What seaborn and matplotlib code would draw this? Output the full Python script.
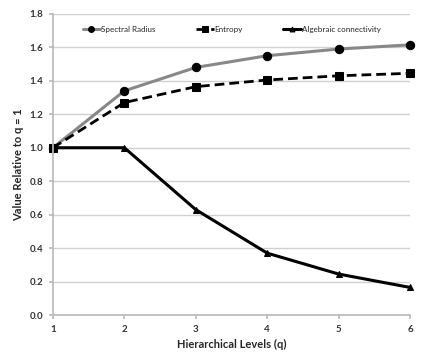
import matplotlib
matplotlib.use("Agg")
import matplotlib.pyplot as plt
import seaborn as sns
import pandas as pd

levels = [1, 2, 3, 4, 5, 6]
spectral_radius = [1.0, 1.34, 1.48, 1.55, 1.59, 1.615]
entropy = [1.0, 1.27, 1.365, 1.405, 1.43, 1.445]
algebraic_conn = [1.0, 1.0, 0.63, 0.37, 0.245, 0.165]
series_names = ["Spectral Radius", "Entropy", "Algebraic connectivity"]
y_ticks = [0.0, 0.2, 0.4, 0.6, 0.8, 1.0, 1.2, 1.4, 1.6, 1.8]

sns.set_theme(style="white")
plt.rcParams['font.family'] = ['Lato', 'DejaVu Sans']

df = pd.DataFrame({
    "q": levels * 3,
    "value": spectral_radius + entropy + algebraic_conn,
    "series": [series_names[0]] * 6 + [series_names[1]] * 6 + [series_names[2]] * 6,
})

fig = plt.figure(figsize=(4.41, 3.56), dpi=100)
ax = fig.add_axes([0.12, 0.115, 0.81, 0.846])

styles = {
    "Spectral Radius": dict(color="#888888", marker="o", ls="-", lw=2.2, ms=6),
    "Entropy": dict(color="black", marker="s", ls=(0, (3.5, 1.8)), lw=2.0, ms=6),
    "Algebraic connectivity": dict(color="black", marker="^", ls="-", lw=2.2, ms=5),
}
for name in series_names:
    st = styles[name]
    sub = df[df.series == name]
    sns.lineplot(data=sub, x="q", y="value", ax=ax, color=st["color"], linestyle=st["ls"],
                 linewidth=st["lw"], marker=st["marker"], markersize=st["ms"],
                 markerfacecolor="black", markeredgecolor="black", label=name)

ax.set_xlim(1, 6)
ax.set_ylim(0, 1.8)
ax.set_yticks(y_ticks)
ax.set_yticklabels([f"{v:.1f}" for v in y_ticks], fontsize=7, fontweight="bold", color="#333333")
ax.set_xticks(levels)
ax.set_xticklabels([str(v) for v in levels], fontsize=7, fontweight="bold", color="#333333")
ax.yaxis.grid(True, color="#d0d0d0", lw=1)
ax.xaxis.grid(False)
for s in ["top", "right"]:
    ax.spines[s].set_visible(False)
for s in ["left", "bottom"]:
    ax.spines[s].set_color("#bbbbbb")
ax.tick_params(axis="x", which="major", direction="out", length=3, color="#bbbbbb", bottom=True, pad=4)
ax.tick_params(axis="y", which="major", direction="out", length=3, color="#bbbbbb", left=True, pad=4)
ax.set_xlabel("Hierarchical Levels (q)", fontsize=8, fontweight="bold")
ax.set_ylabel("Value Relative to q = 1", fontsize=8, fontweight="bold")
for line in ax.lines:
    line.set_clip_on(False)

leg = ax.legend(loc="upper center", ncol=3, frameon=False, fontsize=5.8,
                bbox_to_anchor=(0.5, 0.985), handlelength=2.2, columnspacing=5.0,
                handletextpad=0.1, markerscale=0.7)

fig.savefig("out.png", dpi=100)
